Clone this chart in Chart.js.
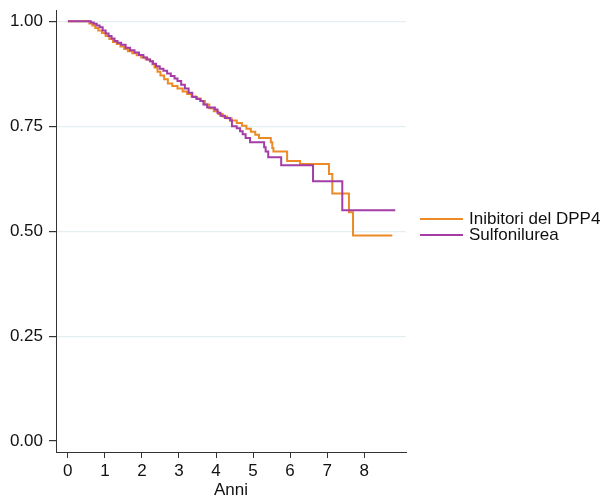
<!DOCTYPE html>
<html>
<head>
<meta charset="utf-8">
<title>Kaplan-Meier</title>
<script src="https://cdn.jsdelivr.net/npm/chart.js@4"></script>
<style>
    body { margin: 0; background: #fff; font-family: 'Liberation Sans', Arial, sans-serif; }
    #wrap { position: relative; width: 612px; height: 498px; }
    .legend-row { position: absolute; left: 420px; height: 16px; display: flex; align-items: center; font-size: 17px; line-height: 16px; color: #111; white-space: nowrap; }
    .legend-line { width: 43px; height: 1.5px; margin-right: 6px; }
</style>
</head>
<body>
<div id="wrap">
    <canvas id="kmChart" width="612" height="498"></canvas>
    <div class="legend-row" style="top: 211px;"><span class="legend-line" style="background: #EB8A26;"></span>Inibitori del DPP4</div>
    <div class="legend-row" style="top: 227px;"><span class="legend-line" style="background: #A43DA6;"></span>Sulfonilurea</div>
</div>
<script>
// Survival steps (time in years, survival)
const dppTimes = [0, 0.58, 0.66, 0.74, 0.82, 0.92, 1.02, 1.12, 1.22, 1.32, 1.42, 1.52, 1.62, 1.74, 1.86, 1.98,
    2.10, 2.22, 2.28, 2.34, 2.42, 2.50, 2.60, 2.70, 2.82, 2.96, 3.10, 3.22, 3.34, 3.46, 3.58, 3.70, 3.82, 3.94,
    4.06, 4.18, 4.30, 4.42, 4.56, 4.70, 4.82, 4.94, 5.06, 5.16, 5.48, 5.52, 5.55, 5.92, 6.27, 7.05, 7.14, 7.59, 7.70, 8.76];
const dppSurv = [1, 0.995, 0.990, 0.984, 0.978, 0.972, 0.965, 0.958, 0.951, 0.946, 0.940, 0.934, 0.929, 0.924, 0.919, 0.914,
    0.909, 0.905, 0.898, 0.890, 0.880, 0.871, 0.862, 0.852, 0.846, 0.840, 0.833, 0.827, 0.821, 0.816, 0.810, 0.802, 0.793, 0.786,
    0.779, 0.773, 0.769, 0.764, 0.758, 0.751, 0.744, 0.737, 0.730, 0.722, 0.712, 0.698, 0.690, 0.667, 0.660, 0.636, 0.590, 0.545, 0.490, 0.490];

const sulfTimes = [0, 0.62, 0.70, 0.78, 0.86, 0.94, 1.02, 1.10, 1.18, 1.26, 1.34, 1.44, 1.56, 1.68, 1.80, 1.92,
    2.04, 2.14, 2.22, 2.30, 2.38, 2.48, 2.58, 2.68, 2.78, 2.88, 2.96, 3.06, 3.16, 3.26, 3.36, 3.48, 3.58, 3.66, 3.76, 3.97,
    4.04, 4.12, 4.24, 4.38, 4.43, 4.56, 4.65, 4.72, 4.80, 4.92, 5.30, 5.34, 5.41, 5.76, 6.62, 7.41, 8.84];
const sulfSurv = [1, 0.997, 0.994, 0.990, 0.986, 0.978, 0.971, 0.965, 0.959, 0.953, 0.949, 0.944, 0.937, 0.931, 0.926, 0.920,
    0.914, 0.909, 0.905, 0.899, 0.893, 0.887, 0.882, 0.876, 0.870, 0.864, 0.858, 0.849, 0.840, 0.830, 0.820, 0.815, 0.810, 0.802, 0.795, 0.790,
    0.782, 0.775, 0.770, 0.764, 0.750, 0.745, 0.738, 0.731, 0.722, 0.712, 0.700, 0.690, 0.676, 0.657, 0.619, 0.550, 0.550];

const xTicks = [0, 1, 2, 3, 4, 5, 6, 7, 8];
const yTicks = [0, 0.25, 0.5, 0.75, 1];

const toPoints = (times, surv) => times.map((t, i) => ({ x: t, y: surv[i] }));

Chart.defaults.font.family = "'Liberation Sans', Arial, sans-serif";
Chart.defaults.font.size = 17;
Chart.defaults.color = '#111';

const ctx = document.getElementById('kmChart').getContext('2d');
new Chart(ctx, {
    type: 'line',
    data: {
        datasets: [{
            label: 'Sulfonilurea',
            data: toPoints(sulfTimes, sulfSurv),
            borderColor: '#A43DA6',
            borderWidth: 2,
            stepped: true,
            pointRadius: 0,
            order: 0
        }, {
            label: 'Inibitori del DPP4',
            data: toPoints(dppTimes, dppSurv),
            borderColor: '#EB8A26',
            borderWidth: 2,
            stepped: true,
            pointRadius: 0,
            order: 1
        }]
    },
    options: {
        responsive: false,
        devicePixelRatio: 1,
        animation: false,
        layout: { padding: { left: 0, right: 206, top: 10, bottom: 0 } },
        plugins: {
            legend: { display: false },
            tooltip: { enabled: false }
        },
        scales: {
            x: {
                type: 'linear',
                min: -0.32,
                max: 9.13,
                afterBuildTicks: (scale) => { scale.ticks = xTicks.map(v => ({ value: v })); },
                afterFit: (scale) => { scale.height = 46; scale.paddingLeft = 0; scale.paddingRight = 0; },
                ticks: { padding: 3, callback: (v) => String(v) },
                grid: { drawOnChartArea: false, tickLength: 6, tickColor: '#333' },
                border: { color: '#333', width: 1 },
                title: { display: true, text: 'Anni', padding: { top: 0, bottom: -3 }, font: { size: 17 } }
            },
            y: {
                min: -0.026,
                max: 1.027,
                afterBuildTicks: (scale) => { scale.ticks = yTicks.map(v => ({ value: v })); },
                afterFit: (scale) => { scale.width = 56; scale.paddingTop = 0; scale.paddingBottom = 0; },
                ticks: { padding: 6, callback: (v) => v.toFixed(2) },
                grid: {
                    color: (c) => (c.tick && c.tick.value === 0 ? 'rgba(0,0,0,0)' : '#E3EFF0'),
                    lineWidth: 1.2,
                    tickLength: 7,
                    tickColor: '#333'
                },
                border: { color: '#333', width: 1 }
            }
        }
    }
});
</script>
</body>
</html>
